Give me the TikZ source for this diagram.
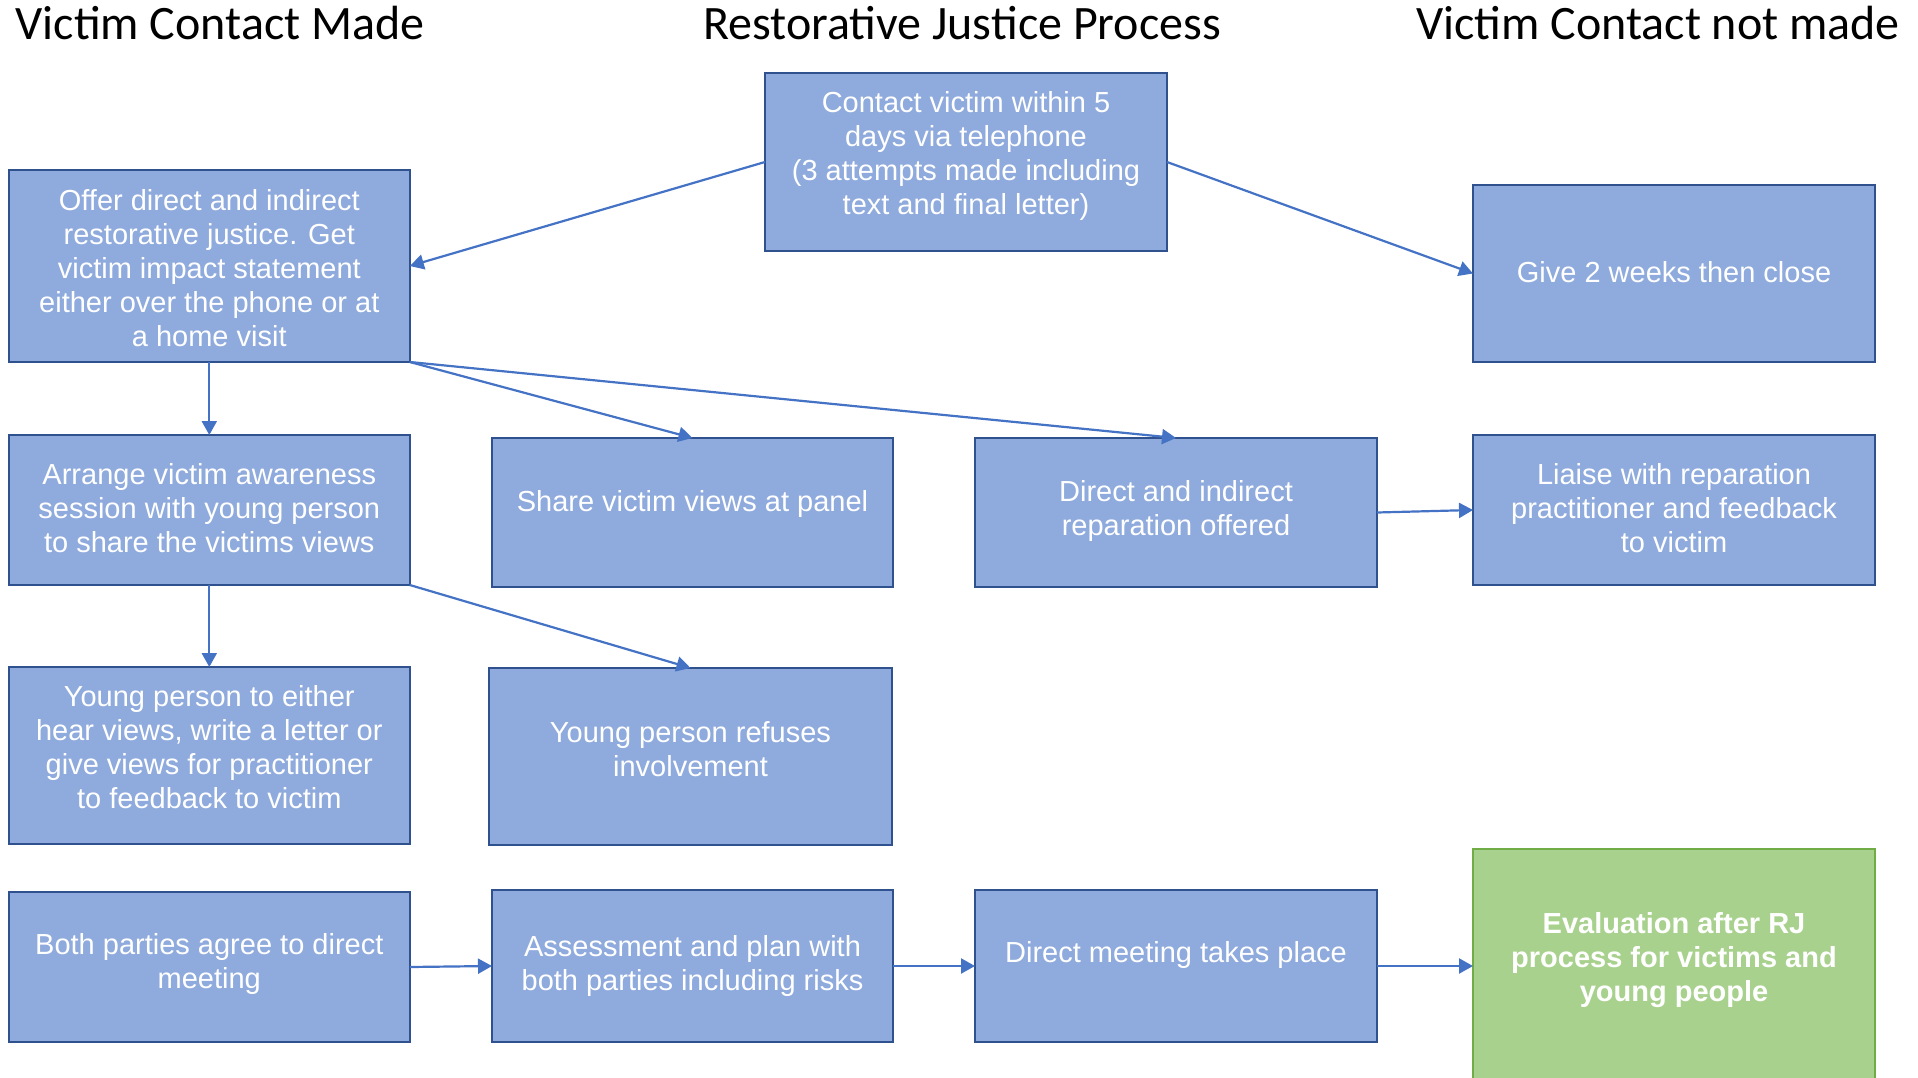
\documentclass[tikz,border=0pt]{standalone}
\usepackage{fontspec}
\setmainfont{Liberation Sans}
\newfontfamily\headfont{Carlito}
\usetikzlibrary{arrows.meta}
\definecolor{boxfill}{HTML}{8FAADC}
\definecolor{boxbord}{HTML}{2F528F}
\definecolor{arrowc}{HTML}{4472C4}
\definecolor{greenfill}{HTML}{A9D18E}
\definecolor{greenbord}{HTML}{70AD47}
\tikzset{
  box/.style={draw=boxbord, fill=boxfill, line width=2.6pt, inner sep=0pt, outer sep=0pt, rectangle},
  greenbox/.style={draw=greenbord, fill=greenfill, line width=2.6pt, inner sep=0pt, outer sep=0pt, rectangle},
  txt/.style={text=white, align=center, inner sep=0pt, font=\fontsize{29}{34}\selectfont},
  head/.style={inner sep=0pt, anchor=base, font=\headfont\fontsize{48}{56}\selectfont},
  conn/.style={draw=arrowc, line width=2.2pt, -{Triangle[length=14pt,width=15pt]}}
}
\begin{document}
\begin{tikzpicture}[x=1pt,y=-1pt]
\useasboundingbox (0,0) rectangle (1918,1078);
\clip (0,0) rectangle (1918,1078);
% headers
\node[head] (h1) at (220,40) {Victim Contact Made};
\node[head] (h2) at (962,40) {Restorative Justice Process};
\node[head] (h3) at (1658,40) {Victim Contact not made};
% boxes
\node[box, minimum width=402pt, minimum height=178pt] (contact) at (966,162) {};
\node[box, minimum width=401pt, minimum height=192pt] (offer) at (209.3,266) {};
\node[box, minimum width=402pt, minimum height=177pt] (give) at (1674,273.5) {};
\node[box, minimum width=401pt, minimum height=150pt] (arrange) at (209.3,510) {};
\node[box, minimum width=401pt, minimum height=149pt] (share) at (692.5,512.5) {};
\node[box, minimum width=402pt, minimum height=149pt] (repar) at (1176,512.5) {};
\node[box, minimum width=402pt, minimum height=150pt] (liaise) at (1674,510) {};
\node[box, minimum width=401pt, minimum height=177pt] (either) at (209.3,755.5) {};
\node[box, minimum width=403pt, minimum height=177pt] (refuses) at (690.5,756.5) {};
\node[box, minimum width=401pt, minimum height=150pt] (both) at (209.3,967) {};
\node[box, minimum width=401pt, minimum height=152pt] (assess) at (692.5,966) {};
\node[box, minimum width=402pt, minimum height=152pt] (meet) at (1176,966) {};
\node[greenbox, minimum width=402pt, minimum height=251pt] (eval) at (1674,974.5) {};
% texts
\node[txt] (tcontact) at (966,156) {Contact victim within 5\\days via telephone\\(3 attempts made including\\text and final letter)};
\node[txt] (toffer) at (209.3,268) {Offer direct and indirect\\restorative justice. Get\\victim impact statement\\either over the phone or at\\a home visit};
\node[txt] (tgive) at (1674,272) {Give 2 weeks then close};
\node[txt] (tarrange) at (209.3,508) {Arrange victim awareness\\session with young person\\to share the victims views};
\node[txt] (tshare) at (692.5,503.5) {Share victim views at panel};
\node[txt] (trepar) at (1176,511) {Direct and indirect\\reparation offered};
\node[txt] (tliaise) at (1674,508) {Liaise with reparation\\practitioner and feedback\\to victim};
\node[txt] (teither) at (209.3,747.5) {Young person to either\\hear views, write a letter or\\give views for practitioner\\to feedback to victim};
\node[txt] (trefuses) at (690.5,749) {Young person refuses\\involvement};
\node[txt] (tboth) at (209.3,963.5) {Both parties agree to direct\\meeting};
\node[txt] (tassess) at (692.5,966) {Assessment and plan with\\both parties including risks};
\node[txt] (tmeet) at (1176,955) {Direct meeting takes place};
\node[txt, font=\bfseries\fontsize{29}{34}\selectfont] (teval) at (1674,960) {Evaluation after RJ\\process for victims and\\young people};
% connectors
\draw[conn] (contact.west) -- (offer.east);
\draw[conn] (contact.east) -- (give.west);
\draw[conn] (offer.south) -- (arrange.north);
\draw[conn] (offer.south east) -- (share.north);
\draw[conn] (offer.south east) -- (repar.north);
\draw[conn] (repar.east) -- (liaise.west);
\draw[conn] (arrange.south) -- (either.north);
\draw[conn] (arrange.south east) -- (refuses.north);
\draw[conn] (both.east) -- (assess.west);
\draw[conn] (assess.east) -- (meet.west);
\draw[conn] (meet.east) -- (meet.east -| eval.west);
\end{tikzpicture}
\end{document}
